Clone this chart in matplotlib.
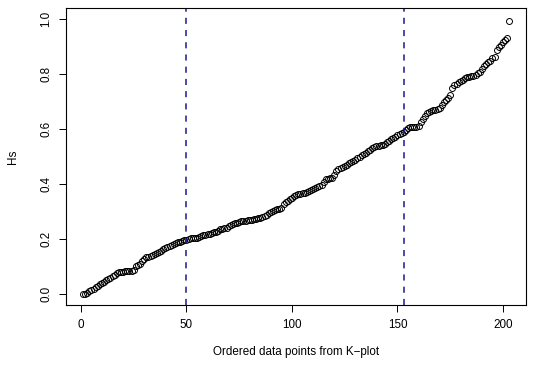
import numpy as np
import matplotlib
matplotlib.use("Agg")
import matplotlib.pyplot as plt

hs = [
    0.000, 0.001, 0.006, 0.011, 0.016, 0.021, 0.026, 0.031, 0.036, 0.041,
    0.046, 0.051, 0.056, 0.061, 0.066, 0.071, 0.076, 0.080, 0.082, 0.082,
    0.083, 0.083, 0.085, 0.086, 0.090, 0.104, 0.108, 0.112, 0.122, 0.128,
    0.134, 0.137, 0.140, 0.143, 0.147, 0.151, 0.155, 0.159, 0.163, 0.167,
    0.171, 0.175, 0.179, 0.183, 0.187, 0.190, 0.192, 0.194, 0.196, 0.198,
    0.201, 0.203, 0.204, 0.205, 0.206, 0.208, 0.211, 0.214, 0.216, 0.218,
    0.220, 0.222, 0.225, 0.228, 0.232, 0.236, 0.238, 0.240, 0.242, 0.248,
    0.252, 0.256, 0.259, 0.261, 0.263, 0.265, 0.267, 0.268, 0.270, 0.271,
    0.272, 0.273, 0.275, 0.277, 0.279, 0.282, 0.286, 0.290, 0.294, 0.298,
    0.303, 0.308, 0.310, 0.311, 0.314, 0.330, 0.336, 0.341, 0.346, 0.350,
    0.356, 0.360, 0.363, 0.366, 0.368, 0.370, 0.372, 0.375, 0.378, 0.382,
    0.386, 0.390, 0.394, 0.398, 0.410, 0.418, 0.421, 0.422, 0.424, 0.434,
    0.448, 0.456, 0.460, 0.464, 0.468, 0.472, 0.476, 0.480, 0.484, 0.490,
    0.495, 0.500, 0.505, 0.510, 0.515, 0.520, 0.526, 0.532, 0.536, 0.540,
    0.541, 0.542, 0.544, 0.548, 0.553, 0.558, 0.563, 0.568, 0.573, 0.578,
    0.582, 0.587, 0.592, 0.598, 0.603, 0.607, 0.608, 0.609, 0.610, 0.612,
    0.625, 0.637, 0.650, 0.660, 0.664, 0.667, 0.670, 0.672, 0.674, 0.676,
    0.688, 0.700, 0.708, 0.714, 0.725, 0.752, 0.760, 0.766, 0.771, 0.776,
    0.781, 0.786, 0.790, 0.792, 0.793, 0.795, 0.798, 0.803, 0.810, 0.820,
    0.830, 0.838, 0.844, 0.850, 0.858, 0.864, 0.888, 0.898, 0.908, 0.917,
    0.924, 0.932, 0.995,
]
idx = np.arange(1, len(hs) + 1)
cut_lines = [50, 153]
x_ticks = [0, 50, 100, 150, 200]
y_ticks = [0.0, 0.2, 0.4, 0.6, 0.8, 1.0]

plt.rcParams['font.family'] = ['Liberation Sans', 'DejaVu Sans']

W, H = 545, 365
fig = plt.figure(figsize=(W / 100, H / 100), dpi=100)
# plot region in pixels (R-style margins): left 66, right 526, top 8.3, bottom 305.3
ax = fig.add_axes([66 / W, (H - 305.3) / H, (526.4 - 66) / W, (305.3 - 8.3) / H])

ax.plot(idx, hs, linestyle='none', marker='o', markersize=4.3,
        markerfacecolor='none', markeredgecolor='black', markeredgewidth=0.7)
for xv in cut_lines:
    ax.axvline(xv, color='#1a1a8c', linestyle=(0, (4, 4)), linewidth=1.1)

pad_x = (idx[-1] - idx[0]) * 0.04
ax.set_xlim(idx[0] - pad_x, idx[-1] + pad_x)
ax.set_ylim(-0.04, 1.04)

ax.set_xticks(x_ticks)
ax.set_yticks(y_ticks)
ax.set_xticklabels([str(t) for t in x_ticks])
ax.set_yticklabels([f"{t:.1f}" for t in y_ticks], rotation=90, va='center')
ax.tick_params(direction='out', length=5, width=0.7, labelsize=8.4, pad=5)
for sp in ax.spines.values():
    sp.set_linewidth(0.8)

ax.set_xlabel("Ordered data points from K\u2212plot", fontsize=8.4, labelpad=11)
ax.set_ylabel("Hs", fontsize=8.4, labelpad=15)

fig.savefig("out.png", dpi=100)
